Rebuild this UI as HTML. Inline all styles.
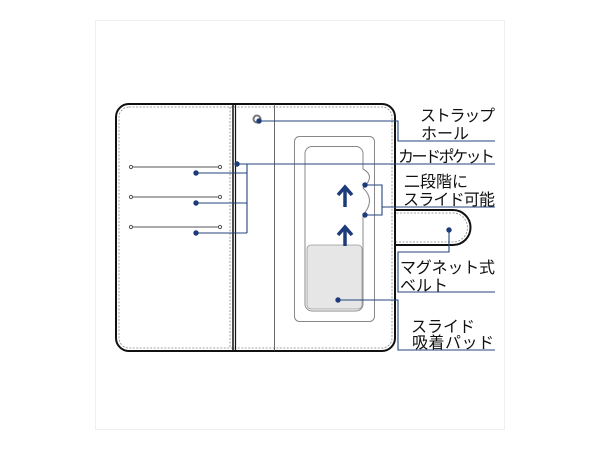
<!DOCTYPE html>
<html><head><meta charset="utf-8"><style>
html,body{margin:0;padding:0;background:#fff;width:600px;height:450px;overflow:hidden}
text{font-family:"Liberation Sans","Noto Sans CJK JP",sans-serif;font-size:16px;fill:#111}
</style></head><body>
<svg width="600" height="450" viewBox="0 0 600 450">
<rect x="95.5" y="20.5" width="409" height="409" fill="#fff" stroke="#efefef"/>
<path d="M393 210 H453 A17.5 17.5 0 0 1 453 245 H393" fill="#fff" stroke="#111" stroke-width="2"/>
<path d="M393 213 H453 A14.5 14.5 0 0 1 453 242 H393" fill="none" stroke="#888" stroke-width="0.8" stroke-dasharray="2,1.5"/>
<rect x="116" y="104" width="279" height="247" rx="13" fill="#fff" stroke="#111" stroke-width="2"/>
<rect x="119" y="107" width="273" height="241" rx="10" fill="none" stroke="#888" stroke-width="0.8" stroke-dasharray="2,1.5"/>
<line x1="230" y1="107" x2="230" y2="348" stroke="#888" stroke-width="0.8" stroke-dasharray="2,1.5"/>
<line x1="233" y1="104" x2="233" y2="351" stroke="#111" stroke-width="1.5"/>
<line x1="235.5" y1="104" x2="235.5" y2="351" stroke="#111" stroke-width="1.2"/>
<line x1="274.5" y1="104" x2="274.5" y2="351" stroke="#444" stroke-width="0.8"/>
<g stroke="#555" stroke-width="1" fill="#fff">
<line x1="131" y1="167" x2="220" y2="167"/><circle cx="131" cy="167" r="1.6"/><circle cx="220" cy="167" r="1.6"/>
<line x1="131" y1="197" x2="220" y2="197"/><circle cx="131" cy="197" r="1.6"/><circle cx="220" cy="197" r="1.6"/>
<line x1="131" y1="227" x2="220" y2="227"/><circle cx="131" cy="227" r="1.6"/><circle cx="220" cy="227" r="1.6"/>
</g>
<rect x="294.5" y="136.5" width="80" height="185" rx="5" fill="#fff" stroke="#888" stroke-width="1"/>
<path d="M312 146.5 H356 A7 7 0 0 1 363 153.5 V169 Q376 176 363 188 Q376 200 363 215 V304 A7 7 0 0 1 356 311 H312 A7 7 0 0 1 305 304 V153.5 A7 7 0 0 1 312 146.5 Z" fill="#fff" stroke="#888" stroke-width="1"/>
<rect x="307" y="245" width="55" height="64" rx="4" fill="#e6e6e6" stroke="#999" stroke-width="0.8"/>
<g stroke="#1d3a7a" stroke-width="3.5" fill="none">
<line x1="345" y1="187" x2="345" y2="207"/><path d="M338 195 L345 187 L352 195"/>
<line x1="345" y1="227" x2="345" y2="246"/><path d="M338 235 L345 227 L352 235"/>
</g>
<circle cx="257" cy="119" r="3.5" fill="#fff" stroke="#777" stroke-width="2"/>
<g stroke="#24457e" stroke-width="1.1" fill="none">
<path d="M259 121 H398 V141 H495"/>
<path d="M237 164 H495"/>
<path d="M196 173 H247 M196 203 H247 M196 233 H247 M247 164 V233"/>
<path d="M365 185 H382 V215 H365 M382 207 H495"/>
<path d="M449 230 V252 H398 V292 H495"/>
<path d="M338 300 H398 V350 H495"/>
</g>
<g fill="#1d3a7a">
<circle cx="259" cy="121" r="2.7"/><circle cx="237" cy="164" r="2.7"/>
<circle cx="196" cy="173" r="2.7"/><circle cx="196" cy="203" r="2.7"/><circle cx="196" cy="233" r="2.7"/>
<circle cx="365" cy="185" r="2.7"/><circle cx="365" cy="215" r="2.7"/>
<circle cx="449" cy="230" r="2.7"/><circle cx="338" cy="300" r="2.7"/>
</g>
<text x="420" y="121" textLength="75">ストラップ</text>
<text x="421" y="139">ホール</text>
<text x="398" y="162" textLength="97">カードポケット</text>
<text x="404" y="187">二段階に</text>
<text x="403" y="205" textLength="92">スライド可能</text>
<text x="400" y="273" textLength="95">マグネット式</text>
<text x="400" y="291">ベルト</text>
<text x="411" y="332">スライド</text>
<text x="412" y="348" textLength="82">吸着パッド</text>
</svg>
</body></html>
